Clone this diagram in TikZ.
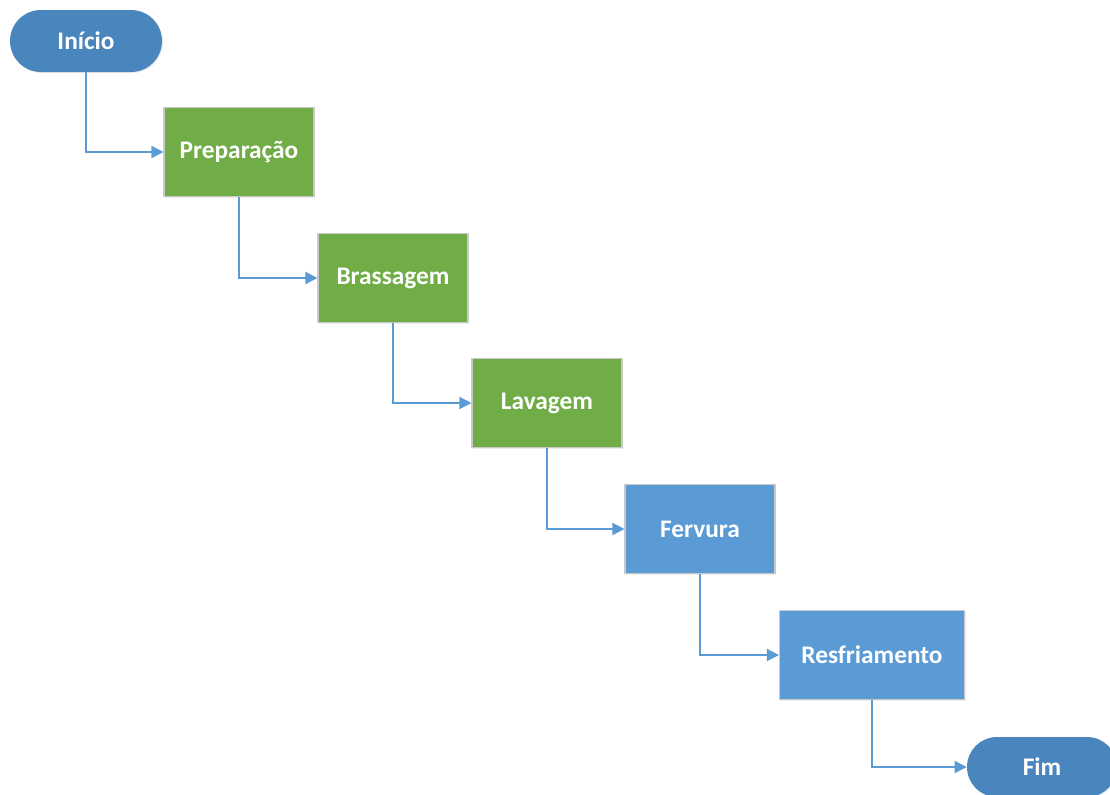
\documentclass[tikz,border=0pt]{standalone}
\usepackage{fontspec}
\setmainfont{Carlito}
\usetikzlibrary{arrows.meta,shapes.misc,shadows}
\definecolor{termblue}{HTML}{4A86BE}
\definecolor{stepgreen}{HTML}{70AD47}
\definecolor{stepblue}{HTML}{5B9BD5}
\definecolor{edgegray}{HTML}{C9C9C9}
\definecolor{flowline}{HTML}{5B9BD5}
\begin{document}
\begin{tikzpicture}[x=0.75pt,y=-0.75pt,
  every node/.style={font=\fontsize{19}{22}\selectfont\bfseries, text=white, inner sep=0pt},
  terminal/.style={rounded rectangle, fill=termblue, minimum width=152*0.75pt, minimum height=62*0.75pt,
    drop shadow={opacity=0.15, shadow xshift=0.8pt, shadow yshift=-0.8pt}},
  stepbox/.style={rectangle, draw=edgegray, line width=0.8pt, minimum width=150*0.75pt, minimum height=89*0.75pt,
    drop shadow={opacity=0.15, shadow xshift=0.8pt, shadow yshift=-0.8pt}},
  greenbox/.style={stepbox, fill=stepgreen},
  bluebox/.style={stepbox, fill=stepblue},
  flow/.style={draw=flowline, line width=1.1pt, -{Triangle[length=9pt,width=9pt]}}
]
\useasboundingbox (0,0) rectangle (1110,794);

% process nodes
\node[terminal] (inicio) at (86,41) {Início};
\node[greenbox] (prep) at (239,152) {Preparação};
\node[greenbox] (brass) at (393,278) {Brassagem};
\node[greenbox] (lav) at (547,403) {Lavagem};
\node[bluebox] (ferv) at (700,529) {Fervura};
\node[bluebox, minimum width=185*0.75pt] (resf) at (872,655) {Resfriamento};
\node[terminal, minimum width=150*0.75pt, minimum height=60*0.75pt] (fim) at (1042,767) {Fim};

% elbow connectors: down from each step, then right into the next
\draw[flow] (inicio.south) |- (prep.west);
\draw[flow] (prep.south) |- (brass.west);
\draw[flow] (brass.south) |- (lav.west);
\draw[flow] (lav.south) |- (ferv.west);
\draw[flow] (ferv.south) |- (resf.west);
\draw[flow] (resf.south) |- (fim.west);
\end{tikzpicture}
\end{document}
